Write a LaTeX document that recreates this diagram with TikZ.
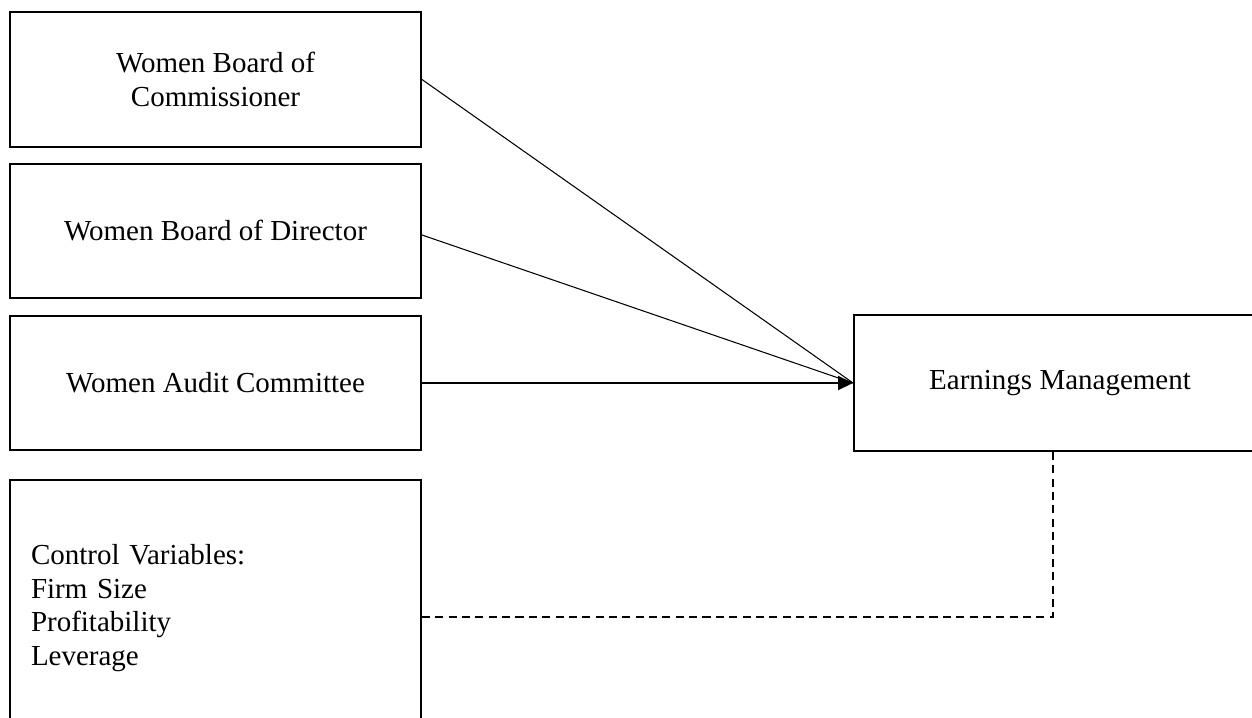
\documentclass[tikz,border=0pt]{standalone}
\usepackage{fontspec}
\setmainfont{Liberation Serif}
\usepackage{tikz}
\usetikzlibrary{positioning,calc,arrows.meta}
\tikzset{
  varbox/.style={draw, line width=1.1pt, minimum width=8.22cm, minimum height=2.69cm, align=center, inner sep=0pt},
  link/.style={line width=0.6pt},
  ctrllink/.style={line width=1pt, dash pattern=on 4.6pt off 3pt}
}

\begin{document}
\begin{tikzpicture}[font=\fontsize{16.5}{19}\selectfont]
        \useasboundingbox (0,0) rectangle (25.04,-14.36);
        % Independent variables
        \node[varbox] (wboc) at (4.31,-1.59) {Women Board of\\Commissioner};
        \node[varbox] (wbod) at (4.31,-4.62) {Women Board of Director};
        \node[varbox] (wac) at (4.31,-7.66) {Women Audit Committee};
        % Control variables
        \node[varbox, minimum height=5.12cm, align=left, text width=7.38cm, inner xsep=0.42cm] (ctrl) at (4.31,-12.16)
            {Control Variables:\\Firm Size\\Profitability\\Leverage};
        % Dependent variable
        \node[varbox, minimum width=8.24cm, minimum height=2.72cm] (em) at (21.2,-7.66) {Earnings Management};
        % Links
        \draw[link] (wboc.east) -- (em.west);
        \draw[link] ([yshift=-0.08cm]wbod.east) -- (em.west);
        \draw[line width=1.1pt, -{Triangle[length=0.3cm,width=0.28cm]}] (wac.east) -- (em.west);
        \coordinate (emfoot) at ([xshift=-0.14cm]em.south);
        \draw[ctrllink] ([yshift=-0.18cm]ctrl.east) -| (emfoot);
    \end{tikzpicture}
\end{document}
